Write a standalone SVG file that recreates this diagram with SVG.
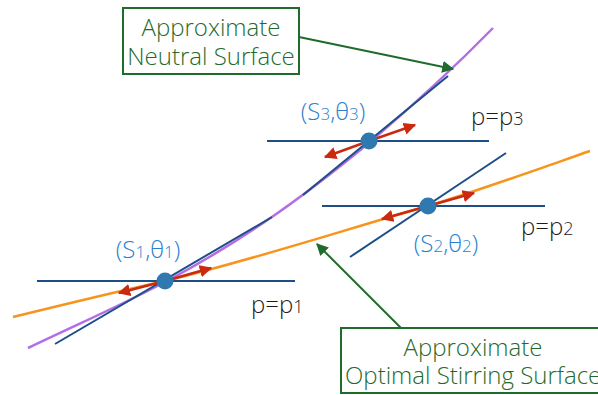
<svg xmlns="http://www.w3.org/2000/svg" width="598" height="395" viewBox="0 0 598 395">
<defs>
<style>
.lbl{font-family:"Open Sans","Liberation Sans",sans-serif;font-weight:300;font-size:24px}
.green{fill:#1f6b2c}
.blue{fill:#2a7fcf}
.dark{fill:#1a1a1a}
.box{fill:#fff;stroke:#1f6b2c;stroke-width:2}
.iso{stroke:#1d4f86;stroke-width:2;fill:none}
.red{stroke:#c92a10;stroke-width:2.5;fill:none;marker-end:url(#rh)}
.dot{fill:#2f78b0}
.lead{stroke:#1f6b2c;stroke-width:2;fill:none;marker-end:url(#gh)}
</style>
<marker id="rh" viewBox="0 0 10 10" refX="9" refY="5" markerWidth="5" markerHeight="5" orient="auto" markerUnits="strokeWidth">
<path d="M0,0 L10,5 L0,10 z" fill="#c92a10"/>
</marker>
<marker id="gh" viewBox="0 0 10 10" refX="9" refY="5" markerWidth="6" markerHeight="6" orient="auto" markerUnits="strokeWidth">
<path d="M0,0 L10,5 L0,10 z" fill="#1f6b2c"/>
</marker>
</defs>
<g id="curves">
<path id="neutral" d="M28,348 C80,323 120,306 165,282 C240,242 300,200 370,142 C410,108 450,72 493,28" stroke="#b36ee6" stroke-width="2.5" fill="none"/>
<path id="stirring" d="M13,317 C70,303 120,291 165,281 C260,258 350,228 428,206 C480,190 530,172 590,151" stroke="#f7941d" stroke-width="2.5" fill="none"/>
</g>
<g id="isobars">
<line class="iso" x1="37" y1="281" x2="295" y2="281"/>
<line class="iso" x1="267" y1="141" x2="489" y2="141"/>
<line class="iso" x1="322" y1="206" x2="545" y2="206"/>
<line class="iso" x1="55" y1="344" x2="272" y2="217"/>
<line class="iso" x1="303" y1="195" x2="448" y2="76"/>
<line class="iso" x1="350" y1="257" x2="506" y2="153"/>
</g>
<g id="connectors">
<line class="red" x1="165" y1="281" x2="211" y2="268"/>
<line class="red" x1="165" y1="281" x2="119" y2="293"/>
<line class="red" x1="369" y1="141" x2="415" y2="125"/>
<line class="red" x1="369" y1="141" x2="325" y2="157"/>
<line class="red" x1="428" y1="206" x2="474" y2="193"/>
<line class="red" x1="428" y1="206" x2="382" y2="219"/>
<line class="lead" x1="299" y1="37" x2="453" y2="69"/>
<line class="lead" x1="401" y1="328" x2="317" y2="244"/>
</g>
<g id="S1"><circle class="dot" cx="165" cy="281" r="8.5"/>
<text class="lbl blue" x="148" y="258" text-anchor="middle">(S<tspan font-size="17">1</tspan>,θ<tspan font-size="17">1</tspan>)</text></g>
<g id="S3"><circle class="dot" cx="369" cy="141" r="8.5"/>
<text class="lbl blue" x="333" y="120" text-anchor="middle">(S<tspan font-size="17">3</tspan>,θ<tspan font-size="17">3</tspan>)</text></g>
<g id="S2"><circle class="dot" cx="428" cy="206" r="8.5"/>
<text class="lbl blue" x="446" y="252" text-anchor="middle">(S<tspan font-size="17">2</tspan>,θ<tspan font-size="17">2</tspan>)</text></g>
<g id="p1"><text class="lbl dark" x="251" y="313">p=p<tspan font-size="18">1</tspan></text></g>
<g id="p2"><text class="lbl dark" x="521" y="235">p=p<tspan font-size="18">2</tspan></text></g>
<g id="p3"><text class="lbl dark" x="471" y="125">p=p<tspan font-size="18">3</tspan></text></g>
<g id="neutralLabel"><rect class="box" x="123" y="8" width="176" height="66"/>
<text class="lbl green" x="211" y="36" text-anchor="middle">Approximate</text>
<text class="lbl green" x="211" y="65" text-anchor="middle">Neutral Surface</text></g>
<g id="stirringLabel"><rect class="box" x="341" y="328" width="270" height="65"/>
<text class="lbl green" x="473" y="356" text-anchor="middle">Approximate</text>
<text class="lbl green" x="345" y="384">Optimal Stirring Surface</text></g>
</svg>
